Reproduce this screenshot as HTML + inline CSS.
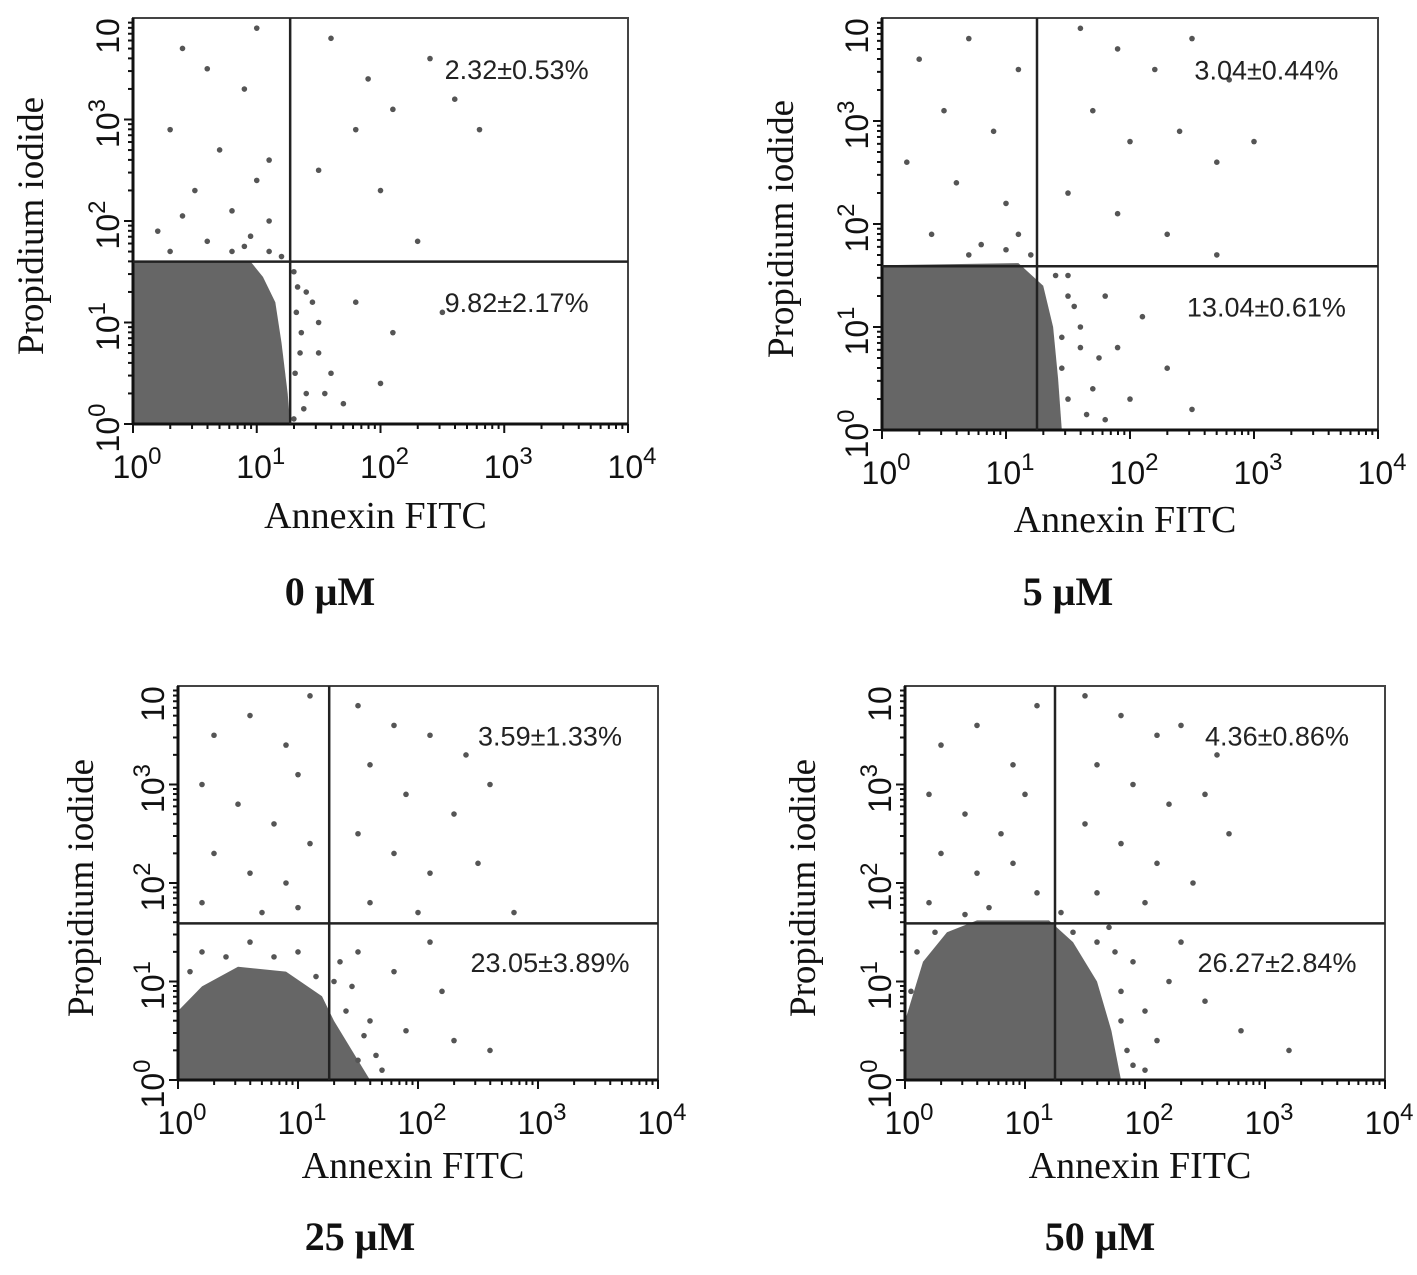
<!DOCTYPE html>
<html><head><meta charset="utf-8">
<style>
html,body{margin:0;padding:0;background:#fff;}
svg{display:block;}
</style></head>
<body>
<svg id="fig" width="1417" height="1275" viewBox="0 0 1417 1275" xmlns="http://www.w3.org/2000/svg"></svg>
<script>
// ---- data (log10 units) ----
const panelTitles = ["0 μM", "5 μM", "25 μM", "50 μM"];
const upperRightPct = ["2.32±0.53%", "3.04±0.44%", "3.59±1.33%", "4.36±0.86%"];
const lowerRightPct = ["9.82±2.17%", "13.04±0.61%", "23.05±3.89%", "26.27±2.84%"];
const gateX = [1.27, 1.25, 1.26, 1.25];
const gateY = [1.6, 1.59, 1.59, 1.59];
const xTickExp = [0, 1, 2, 3, 4];
const yTickExp = [0, 1, 2, 3];
// dense population outlines [logX, logY]
const cluster0 = [[0,0],[0,1.6],[0.95,1.6],[1.05,1.45],[1.15,1.2],[1.2,0.8],[1.25,0.3],[1.27,0]];
const cluster1 = [[0,0],[0,1.6],[1.1,1.62],[1.3,1.4],[1.38,1.0],[1.42,0.5],[1.45,0]];
const cluster2 = [[0,0],[0,0.7],[0.2,0.95],[0.5,1.15],[0.9,1.1],[1.2,0.85],[1.3,0.6],[1.45,0.3],[1.6,0]];
const cluster3 = [[0,0],[0,0.6],[0.15,1.2],[0.35,1.5],[0.6,1.62],[1.2,1.62],[1.4,1.4],[1.6,1.0],[1.72,0.5],[1.8,0]];
// sparse events [logX, logY]
const events0 = [[0.4,3.7],[0.6,3.5],[1.0,3.9],[0.9,3.3],[0.3,2.9],[0.7,2.7],[1.1,2.6],[0.5,2.3],[0.8,2.1],[1.0,2.4],[0.2,1.9],[0.6,1.8],[0.9,1.75],[1.1,2.0],[0.4,2.05],[1.6,3.8],[1.9,3.4],[2.1,3.1],[1.8,2.9],[2.4,3.6],[2.6,3.2],[1.5,2.5],[2.0,2.3],[2.3,1.8],[2.8,2.9],[1.4,1.3],[1.5,1.0],[1.35,0.7],[1.6,0.5],[1.4,0.3],[1.8,1.2],[2.1,0.9],[2.5,1.1],[1.7,0.2],[2.0,0.4],[1.3,1.5],[1.32,1.1],[1.36,0.9],[1.31,0.5],[1.38,0.15],[1.45,1.2],[1.5,0.7],[1.55,0.3],[1.33,1.35],[1.1,1.7],[0.8,1.7],[0.3,1.7],[0.95,1.85],[1.2,1.65],[1.3,0.05]];
const events1 = [[0.3,3.6],[0.7,3.8],[1.1,3.5],[0.5,3.1],[0.9,2.9],[0.2,2.6],[0.6,2.4],[1.0,2.2],[0.4,1.9],[0.8,1.8],[1.1,1.9],[1.6,3.9],[1.9,3.7],[2.2,3.5],[2.5,3.8],[2.8,3.4],[1.7,3.1],[2.0,2.8],[2.4,2.9],[2.7,2.6],[1.5,2.3],[1.9,2.1],[2.3,1.9],[2.7,1.7],[1.5,1.3],[1.6,1.0],[1.45,0.6],[1.7,0.4],[1.9,0.8],[2.1,1.1],[2.3,0.6],[1.8,0.1],[2.0,0.3],[1.4,1.5],[2.5,0.2],[3.0,2.8],[1.5,1.5],[1.55,1.2],[1.6,0.8],[1.5,0.3],[1.65,0.15],[1.75,0.7],[1.8,1.3],[1.45,0.9],[1.2,1.7],[0.7,1.7],[1.0,1.75]];
const events2 = [[0.3,3.5],[0.6,3.7],[0.9,3.4],[1.1,3.9],[0.2,3.0],[0.5,2.8],[0.8,2.6],[1.0,3.1],[0.3,2.3],[0.6,2.1],[0.9,2.0],[1.1,2.4],[0.2,1.8],[0.7,1.7],[1.0,1.75],[1.5,3.8],[1.8,3.6],[2.1,3.5],[2.4,3.3],[2.6,3.0],[1.6,3.2],[1.9,2.9],[2.3,2.7],[1.5,2.5],[1.8,2.3],[2.1,2.1],[2.5,2.2],[1.6,1.8],[2.0,1.7],[2.8,1.7],[0.2,1.3],[0.6,1.4],[1.0,1.3],[1.5,1.3],[1.8,1.1],[2.2,0.9],[1.6,0.6],[1.9,0.5],[2.3,0.4],[1.5,0.2],[2.6,0.3],[2.1,1.4],[1.3,1.0],[1.4,0.7],[1.55,0.45],[1.65,0.25],[1.7,0.1],[0.1,1.1],[0.4,1.25],[0.8,1.25],[1.15,1.05],[1.35,1.2],[1.45,0.95]];
const events3 = [[0.3,3.4],[0.6,3.6],[0.9,3.2],[1.1,3.8],[0.2,2.9],[0.5,2.7],[0.8,2.5],[1.0,2.9],[0.3,2.3],[0.6,2.1],[0.9,2.2],[1.1,1.9],[0.2,1.8],[0.7,1.75],[1.5,3.9],[1.8,3.7],[2.1,3.5],[2.3,3.6],[2.6,3.3],[1.6,3.2],[1.9,3.0],[2.2,2.8],[2.5,2.9],[1.5,2.6],[1.8,2.4],[2.1,2.2],[2.4,2.0],[1.6,1.9],[2.0,1.8],[2.7,2.5],[1.6,1.4],[1.9,1.2],[2.2,1.0],[1.8,0.6],[2.1,0.4],[2.5,0.8],[2.8,0.5],[1.4,1.5],[2.0,0.1],[3.2,0.3],[1.75,1.3],[1.8,0.9],[1.85,0.3],[1.9,0.15],[1.7,1.55],[0.05,0.9],[0.1,1.3],[0.25,1.5],[0.5,1.68],[1.3,1.7],[2.3,1.4],[2.0,0.7]];
const clusters = [cluster0, cluster1, cluster2, cluster3];
const events = [events0, events1, events2, events3];

// ---- layout ----
const layout = [
  {x0:133,x1:628,yb:424,yt:18,ytx:30,xty:528,tty:605,tcx:330},
  {x0:882,x1:1378,yb:430,yt:18,ytx:780,xty:532,tty:605,tcx:1068},
  {x0:178,x1:658,yb:1080,yt:686,ytx:80,xty:1178,tty:1250,tcx:360},
  {x0:905,x1:1385,yb:1080,yt:686,ytx:802,xty:1178,tty:1250,tcx:1100}
];
const NS = "http://www.w3.org/2000/svg";
const svg = document.getElementById('fig');
function mk(tag, attrs, parent){
  const e = document.createElementNS(NS, tag);
  for (const k in attrs) e.setAttribute(k, attrs[k]);
  (parent||svg).appendChild(e); return e;
}
layout.forEach((L, i) => {
  const sx = v => L.x0 + (L.x1 - L.x0) * v / 4;
  const sy = v => L.yb - (L.yb - L.yt) * v / 4;
  const g = mk('g', {});
  
  
  const cp = mk('polygon', {points: clusters[i].map(p => sx(p[0]) + ',' + sy(p[1])).join(' '), fill:'#666'}, g);
  
  
  events[i].forEach(p => {
    const c = mk('circle', {cx:sx(p[0]), cy:sy(p[1]), r:2.8, fill:'#555'}, g);
    
    
  });
  const box = mk('rect', {x:L.x0, y:L.yt, width:L.x1-L.x0, height:L.yb-L.yt, fill:'none', stroke:'#444', 'stroke-width':2}, g);
  
  
  mk('line', {x1:L.x0, x2:L.x0, y1:L.yt, y2:L.yb, stroke:'#111', 'stroke-width':3}, g);
  mk('line', {x1:L.x0, x2:L.x1, y1:L.yb, y2:L.yb, stroke:'#111', 'stroke-width':3}, g);
  const gv = mk('line', {x1:sx(gateX[i]), x2:sx(gateX[i]), y1:L.yt, y2:L.yb, stroke:'#222', 'stroke-width':2.5}, g);
  
  
  const gh = mk('line', {x1:L.x0, x2:L.x1, y1:sy(gateY[i]), y2:sy(gateY[i]), stroke:'#222', 'stroke-width':2.5}, g);
  
  
  for (let d = 0; d < 4; d++) for (let m = 1; m < 10; m++) {
    const v = d + Math.log10(m);
    const len = m === 1 ? 9 : 5;
    mk('line', {x1:sx(v), x2:sx(v), y1:L.yb, y2:L.yb+len, stroke:'#111', 'stroke-width':2}, g);
    mk('line', {x1:L.x0-len, x2:L.x0, y1:sy(v), y2:sy(v), stroke:'#111', 'stroke-width':2}, g);
  }
  mk('line', {x1:sx(4), x2:sx(4), y1:L.yb, y2:L.yb+9, stroke:'#111', 'stroke-width':2}, g);
  xTickExp.forEach(e => {
    const t = mk('text', {x:sx(e)+4, y:L.yb+54, 'text-anchor':'middle', 'font-family':'Liberation Sans, sans-serif', 'font-size':32, fill:'#111'}, g);
    
    
    t.textContent = '10';
    const s = mk('tspan', {dy:-14, 'font-size':24}, t); s.textContent = e;
  });
  yTickExp.forEach(e => {
    const t = mk('text', {x:0, y:0, transform:'translate(' + (L.x0-14) + ',' + (sy(e)+4) + ') rotate(-90)', 'text-anchor':'middle', 'font-family':'Liberation Sans, sans-serif', 'font-size':32, fill:'#111'}, g);
    
    
    t.textContent = '10';
    const s = mk('tspan', {dy:-14, 'font-size':24}, t); s.textContent = e;
  });
  const tt = mk('text', {x:0, y:0, transform:'translate(' + (L.x0-14) + ',' + (L.yt+18) + ') rotate(-90)', 'text-anchor':'middle', 'font-family':'Liberation Sans, sans-serif', 'font-size':32, fill:'#111'}, g);
  
  
  tt.textContent = '10';
  const yt = mk('text', {x:0, y:0, transform:'translate(' + (L.ytx+13) + ',' + ((L.yt+L.yb)/2 + 5) + ') rotate(-90)', 'text-anchor':'middle', 'font-family':'Liberation Serif, serif', 'font-size':37, fill:'#111'}, g);
  
  
  yt.textContent = 'Propidium iodide';
  const xt = mk('text', {x:(L.x0+L.x1)/2 - 5, y:L.xty, 'text-anchor':'middle', 'font-family':'Liberation Serif, serif', 'font-size':38, fill:'#111'}, g);
  
  
  xt.textContent = 'Annexin FITC';
  const pt = mk('text', {x:L.tcx, y:L.tty, 'text-anchor':'middle', 'font-family':'Liberation Serif, serif', 'font-size':40, 'font-weight':'bold', fill:'#111'}, g);
  
  
  pt.textContent = panelTitles[i];
  const ur = mk('text', {x:sx(3.1), y:sy(3.5)+10, 'text-anchor':'middle', 'font-family':'Liberation Sans, sans-serif', 'font-size':27, fill:'#222'}, g);
  
  
  ur.textContent = upperRightPct[i];
  const lr = mk('text', {x:sx(3.1), y:sy(1.2)+10, 'text-anchor':'middle', 'font-family':'Liberation Sans, sans-serif', 'font-size':27, fill:'#222'}, g);
  
  
  lr.textContent = lowerRightPct[i];
});
</script>
</body></html>
